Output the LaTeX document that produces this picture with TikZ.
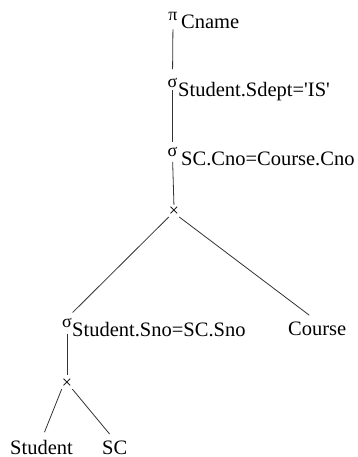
\documentclass[tikz,border=0pt]{standalone}
\usepackage{fontspec}
\setmainfont{Liberation Serif}
\begin{document}
\begin{tikzpicture}[x=1pt,y=-1pt,
  op/.style={inner sep=0pt,font=\fontsize{18}{20}\selectfont},
  lbl/.style={inner sep=0pt,anchor=base west,font=\fontsize{20.5}{23}\selectfont},
  edge/.style={draw=black!80,line width=0.8pt}]
\useasboundingbox (0,0) rectangle (358,457);

% operators
\node[op] (pi) at (173,16) {π};
\node[op] (s1) at (172.5,83) {σ};
\node[op] (s2) at (172.5,152) {σ};
\node[op] (x1) at (174,212) {×};
\node[op] (s3) at (67,323) {σ};
\node[op] (x2) at (67,384) {×};

% operator conditions
\node[lbl] (piL) at (181,29) {Cname};
\node[lbl] (s1L) at (178,97) {Student.Sdept=\textquotesingle IS\textquotesingle};
\node[lbl] (s2L) at (181,165) {SC.Cno=Course.Cno};
\node[lbl] (s3L) at (72,336) {Student.Sno=SC.Sno};

% relations
\node[lbl] (course) at (288,335) {Course};
\node[lbl] (student) at (10,454) {Student};
\node[lbl] (sc) at (102,454) {SC};

% tree edges
\draw[edge,shorten <=9pt,shorten >=9pt] (pi.south) -- (s1.north);
\draw[edge,shorten <=2pt,shorten >=5pt] (s1.south) -- (s2.north);
\draw[edge,shorten <=5pt,shorten >=2pt] (s2.south) -- (x1.north);
\draw[edge,shorten >=8pt] (x1.south west) -- (s3.north);
\draw[edge,shorten >=10pt] (x1.south east) -- (course.north);
\draw[edge,shorten <=6pt,shorten >=4pt] (s3.south) -- (x2.north);
\draw[edge,shorten >=8pt] (x2.south west) -- (student.north);
\draw[edge,shorten >=8pt] (x2.south east) -- (sc.north);
\end{tikzpicture}
\end{document}
